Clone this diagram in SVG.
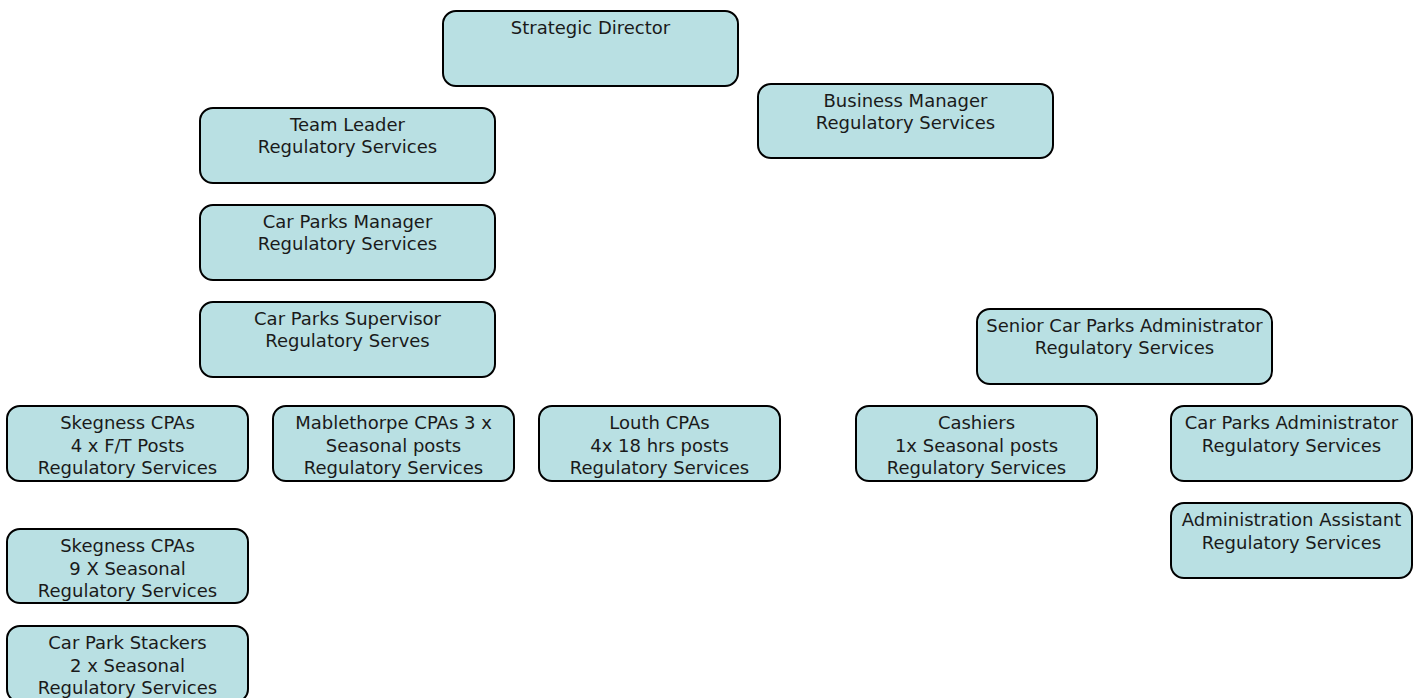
<svg xmlns="http://www.w3.org/2000/svg" width="1421" height="698" viewBox="0 0 1421 698">
  <style>
    .box { fill: #b9e0e3; stroke: #000; stroke-width: 2; }
    .lbl { font-family: "DejaVu Sans", Verdana, sans-serif; font-size: 18px; fill: #1a1a1a; text-anchor: middle; }
  </style>
  <rect width="1421" height="698" fill="#fff"/>
  <g id="connectors"></g>

  <g id="strategic-director">
    <rect class="box" x="443" y="11" width="295" height="75" rx="13"/>
    <text class="lbl" x="590.5" y="34">Strategic Director</text>
  </g>
  <g id="business-manager">
    <rect class="box" x="758" y="84" width="295" height="74" rx="13"/>
    <text class="lbl" x="905.5" y="107">Business Manager</text>
    <text class="lbl" x="905.5" y="129">Regulatory Services</text>
  </g>
  <g id="team-leader">
    <rect class="box" x="200" y="108" width="295" height="75" rx="13"/>
    <text class="lbl" x="347.5" y="131">Team Leader</text>
    <text class="lbl" x="347.5" y="153">Regulatory Services</text>
  </g>
  <g id="car-parks-manager">
    <rect class="box" x="200" y="205" width="295" height="75" rx="13"/>
    <text class="lbl" x="347.5" y="228">Car Parks Manager</text>
    <text class="lbl" x="347.5" y="250">Regulatory Services</text>
  </g>
  <g id="car-parks-supervisor">
    <rect class="box" x="200" y="302" width="295" height="75" rx="13"/>
    <text class="lbl" x="347.5" y="325">Car Parks Supervisor</text>
    <text class="lbl" x="347.5" y="347">Regulatory Serves</text>
  </g>
  <g id="senior-admin">
    <rect class="box" x="977" y="309" width="295" height="75" rx="13"/>
    <text class="lbl" x="1124.5" y="332">Senior Car Parks Administrator</text>
    <text class="lbl" x="1124.5" y="354">Regulatory Services</text>
  </g>
  <g id="skegness-ft">
    <rect class="box" x="7" y="406" width="241" height="75" rx="13"/>
    <text class="lbl" x="127.5" y="429">Skegness CPAs</text>
    <text class="lbl" x="127.5" y="452">4 x F/T Posts</text>
    <text class="lbl" x="127.5" y="474">Regulatory Services</text>
  </g>
  <g id="mablethorpe">
    <rect class="box" x="273" y="406" width="241" height="75" rx="13"/>
    <text class="lbl" x="393.5" y="429">Mablethorpe CPAs 3 x</text>
    <text class="lbl" x="393.5" y="452">Seasonal posts</text>
    <text class="lbl" x="393.5" y="474">Regulatory Services</text>
  </g>
  <g id="louth">
    <rect class="box" x="539" y="406" width="241" height="75" rx="13"/>
    <text class="lbl" x="659.5" y="429">Louth CPAs</text>
    <text class="lbl" x="659.5" y="452">4x 18 hrs posts</text>
    <text class="lbl" x="659.5" y="474">Regulatory Services</text>
  </g>
  <g id="cashiers">
    <rect class="box" x="856" y="406" width="241" height="75" rx="13"/>
    <text class="lbl" x="976.5" y="429">Cashiers</text>
    <text class="lbl" x="976.5" y="452">1x Seasonal posts</text>
    <text class="lbl" x="976.5" y="474">Regulatory Services</text>
  </g>
  <g id="car-parks-admin">
    <rect class="box" x="1171" y="406" width="241" height="75" rx="13"/>
    <text class="lbl" x="1291.5" y="429">Car Parks Administrator</text>
    <text class="lbl" x="1291.5" y="452">Regulatory Services</text>
  </g>
  <g id="admin-assistant">
    <rect class="box" x="1171" y="503" width="241" height="75" rx="13"/>
    <text class="lbl" x="1291.5" y="526">Administration Assistant</text>
    <text class="lbl" x="1291.5" y="549">Regulatory Services</text>
  </g>
  <g id="skegness-seasonal">
    <rect class="box" x="7" y="529" width="241" height="74" rx="13"/>
    <text class="lbl" x="127.5" y="552">Skegness CPAs</text>
    <text class="lbl" x="127.5" y="575">9 X Seasonal</text>
    <text class="lbl" x="127.5" y="597">Regulatory Services</text>
  </g>
  <g id="car-park-stackers">
    <rect class="box" x="7" y="626" width="241" height="76" rx="13"/>
    <text class="lbl" x="127.5" y="649">Car Park Stackers</text>
    <text class="lbl" x="127.5" y="672">2 x Seasonal</text>
    <text class="lbl" x="127.5" y="694">Regulatory Services</text>
  </g>
</svg>
